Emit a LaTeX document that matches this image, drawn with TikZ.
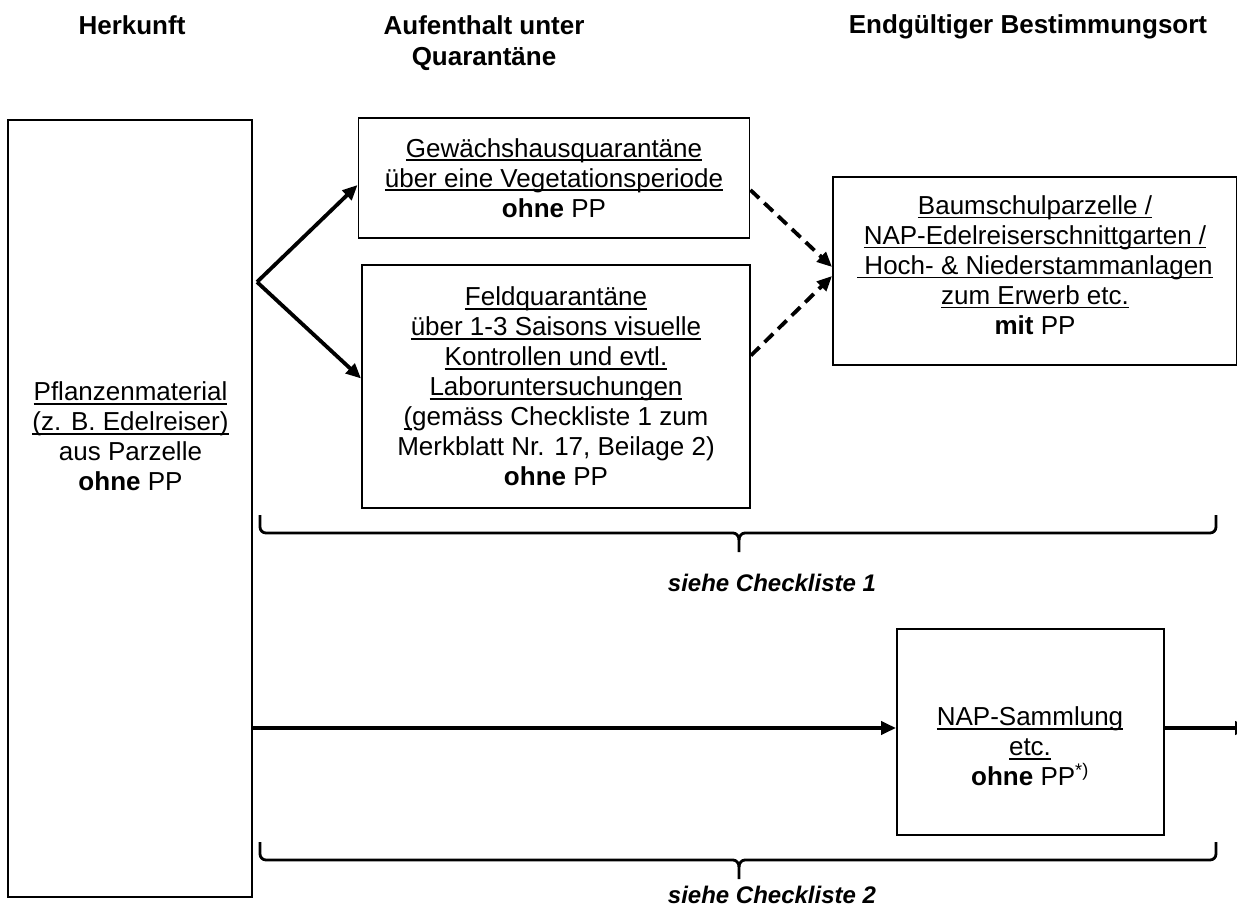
\documentclass[tikz,border=0pt]{standalone}
\usepackage{fontspec}
\setmainfont{Liberation Sans}
\usetikzlibrary{arrows.meta,calc}
\newcommand{\ulin}[1]{\sbox0{#1}\makebox[0pt][l]{\rule[-4pt]{\wd0}{1.8pt}}\usebox0}
\begin{document}
\begin{tikzpicture}[x=1pt,y=-1pt,
  frame/.style={draw,line width=1.9pt,inner sep=0pt},
  txt/.style={align=center,inner sep=0pt,font=\fontsize{26}{30}\selectfont},
  head/.style={inner sep=0pt,anchor=base,font=\fontsize{26}{30}\selectfont\bfseries},
  note/.style={inner sep=0pt,font=\fontsize{24}{28}\selectfont\bfseries\itshape},
  arr/.style={line width=3.8pt,-{Triangle[length=15pt,width=13pt]}},
  darr/.style={arr,dash pattern=on 12pt off 7pt},
  brc/.style={line width=2.8pt}]
\useasboundingbox (0,0) rectangle (1237,909);

% headers
\node[head] (h1) at (132,35) {Herkunft};
\node[head] (h2a) at (484,35) {Aufenthalt unter};
\node[head] (h2b) at (484,66) {Quarant\"ane};
\node[head] (h3) at (1028,34) {Endg\"ultiger Bestimmungsort};

% boxes
\node[frame,minimum width=244pt,minimum height=777pt] (L) at (130,508.5) {};
\node[txt] (Lt) at (130.5,436.5) {\ulin{Pflanzenmaterial}\\\ulin{(z. B. Edelreiser)}\\aus Parzelle\\\textbf{ohne} PP};

\node[frame,minimum width=391pt,minimum height=120pt,txt] (G) at (554,178)
  {\ulin{Gew\"achshausquarant\"ane}\\\ulin{\"uber eine Vegetationsperiode}\\\textbf{ohne} PP};

\node[frame,minimum width=388pt,minimum height=243pt,txt] (F) at (556,386.5)
  {\ulin{Feldquarant\"ane}\\\ulin{\"uber 1-3 Saisons visuelle}\\\ulin{Kontrollen und evtl.}\\\ulin{Laboruntersuchungen}\\\ulin{(}gem\"ass Checkliste 1 zum\\Merkblatt Nr. 17, Beilage 2)\\\textbf{ohne} PP};

\node[frame,minimum width=404pt,minimum height=188pt] (B) at (1035,271) {};
\node[txt] (Bt) at (1035,265) {\ulin{Baumschulparzelle /}\\\ulin{NAP-Edelreiserschnittgarten /}\\\ulin{\ Hoch- \& Niederstammanlagen}\\\ulin{zum Erwerb etc.}\\\textbf{mit} PP};

\node[frame,minimum width=267pt,minimum height=206pt] (N) at (1030.5,732) {};
\node[txt] (Nt) at (1030,746.5) {\ulin{NAP-Sammlung}\\\ulin{etc.}\\\textbf{ohne} PP\textsuperscript{*)}};

% arrows
\coordinate (s) at (257,282);
\draw[arr] (s) -- ([yshift=-7pt]G.west);
\draw[arr] (s) -- ([yshift=8pt]F.west);
\draw[darr] ([yshift=-12pt]G.east) -- ([yshift=4pt]B.west);
\draw[darr] ([yshift=31pt]F.east) -- ([yshift=-5pt]B.west);
\coordinate (hy) at (0,728);
\coordinate (e) at (1250,728);
\draw[arr] (L.east |- hy) -- (N.west |- hy);
\draw[arr] (N.east |- hy) -- (e);

% braces
\draw[brc] (260,515) -- (260,527) to[out=-90,in=180] (266,533) -- (733,533) to[out=0,in=90] (739,540) -- (739,552);
\draw[brc] (1216,515) -- (1216,527) to[out=-90,in=0] (1210,533) -- (745,533) to[out=180,in=90] (739,540);
\node[note] (c1) at (772,583) {siehe Checkliste 1};

\draw[brc] (260,842) -- (260,854) to[out=-90,in=180] (266,860) -- (733,860) to[out=0,in=90] (739,867) -- (739,879);
\draw[brc] (1216,842) -- (1216,854) to[out=-90,in=0] (1210,860) -- (745,860) to[out=180,in=90] (739,867);
\node[note] (c2) at (772,895) {siehe Checkliste 2};
\end{tikzpicture}
\end{document}
